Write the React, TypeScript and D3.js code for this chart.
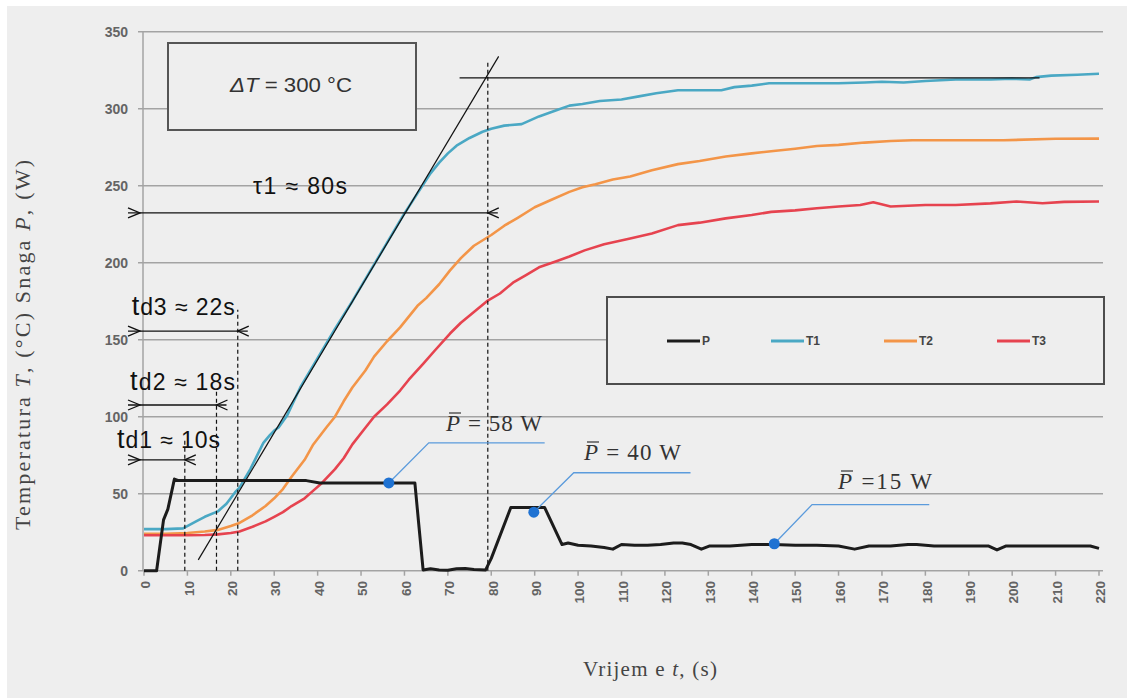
import React from "react";
import * as d3 from "d3";

// ---- data (time s, value) ----
const seriesNames = ["P", "T1", "T2", "T3"];
const seriesColors = ["#1c1c1c", "#4aa8c4", "#f39548", "#e6434f"];

const dataP: [number, number][] = [
  [0, 0], [2.9, 0], [4.5, 33], [5.5, 40], [7, 59.5], [8, 58.5], [20, 58.5], [30, 58.5], [37.4, 58.5],
  [40.5, 57], [50, 57], [62.4, 57], [63.3, 30], [64.3, 0.5], [66, 1.2], [68, 0.5], [70, 0.3], [72, 1.2],
  [74, 1.5], [76, 0.8], [78.7, 0.5], [80, 8], [84.5, 41], [92.3, 41], [96.3, 17], [97.7, 18], [100, 16.5],
  [103, 16], [106, 15], [108, 14], [110, 17], [113, 16.5], [116, 16.5], [119, 17], [122, 18], [124, 18],
  [126, 17], [128.4, 14], [130.2, 16], [135, 16], [140, 17], [145, 17], [150, 16.5], [155, 16.5], [160, 16],
  [163.7, 14], [167, 16], [172, 16], [176, 17], [178, 17], [182, 16], [190, 16], [194.6, 16], [196.5, 13.5],
  [198.5, 16], [205, 16], [210, 16], [215, 16], [218, 16], [220, 14.5],
];

const dataT1: [number, number][] = [
  [0, 27], [5, 27], [9, 27.5], [12, 32], [14, 35], [17, 38.5], [19, 43.5], [21, 51], [22, 54], [24.5, 66],
  [27.5, 83], [29, 88], [30, 91], [31, 93], [33, 101], [36, 119], [40, 138], [44, 157], [48, 175], [52, 194],
  [56, 213], [60, 232], [63, 245], [66, 258], [68, 265], [70, 271], [72, 276], [75, 281], [78, 285], [80, 287],
  [83, 289], [87, 290], [91, 295], [95, 299], [98, 302], [101, 303], [105, 305], [110, 306], [114, 308],
  [118, 310], [123, 312], [128, 312], [133, 312], [136, 314], [140, 315], [144, 316.5], [150, 316.5],
  [160, 316.5], [166, 317], [170, 317.5], [175, 317], [180, 318], [187, 319], [195, 319], [200, 319.5],
  [204, 319], [205.5, 320.5], [209, 321.5], [215, 322], [220, 322.7],
];

const dataT2: [number, number][] = [
  [0, 24], [5, 24], [10, 24.5], [14, 25.5], [17, 26.5], [20, 29], [22, 31], [25, 36], [28, 42], [30, 47],
  [32, 53], [34, 61], [37, 72], [39, 82], [42, 93], [44, 100], [46, 110], [48, 119], [51, 130], [53, 139],
  [56, 149], [59, 158], [61, 165], [63, 172], [65, 177], [68, 186], [70.5, 195], [73, 203], [76, 211],
  [80, 218], [83, 224], [86, 229], [90, 236], [94, 241], [98, 246], [101, 249], [104, 251], [108, 254],
  [112, 256], [117, 260], [123, 264], [128, 266], [134, 269], [140, 271], [145, 272.5], [150, 274],
  [155, 275.8], [160, 276.5], [166, 278], [172, 279], [177, 279.5], [185, 279.5], [198, 279.5],
  [210, 280.5], [220, 280.6],
];

const dataT3: [number, number][] = [
  [0, 23], [5, 23], [10, 23], [14, 23.2], [17, 23.6], [20, 24.5], [22, 25.5], [25, 28.5], [28, 32], [30, 35],
  [32, 38], [34, 42], [37, 47], [39, 52], [41, 57], [44, 66], [46, 73], [48, 82], [50.5, 91], [53, 100],
  [56, 108], [59, 117], [61, 124], [64.4, 134.6], [67, 143], [70.5, 154], [73, 161], [76, 168], [79, 175],
  [82, 180], [85, 187], [88, 192], [91, 197], [95, 201], [98, 204], [101.5, 208], [106, 212], [112, 215.7],
  [117, 219], [123, 224.4], [128, 226], [134, 228.8], [140, 231], [144.5, 233], [150, 234], [155, 235.4],
  [160, 236.5], [165, 237.5], [168, 239.3], [172, 236.5], [180, 237.5], [187, 237.5], [195, 238.5],
  [201, 239.7], [207, 238.6], [212, 239.5], [220, 239.7],
];

const xTicks = d3.range(0, 221, 10);
const yTicks = [0, 50, 100, 150, 200, 250, 300, 350];

// callouts: dot, elbow, end (t, value), label
const calloutDots: [number, number][] = [[56.4, 57], [89.8, 38], [145.2, 17.5]];
const calloutElbows: [number, number][] = [[65.6, 83], [99, 63.6], [153.9, 42.9]];
const calloutEnds = [92.3, 125.9, 180.9];
const calloutLabels = ["58", "40", "15"];

// tangent and time-constant markers
const tangentLine: [number, number][] = [[12.5, 7], [81.7, 334]];
const steadyLine: [number, number][] = [[72.7, 320], [206.3, 320]];
const delayTimes = [9.4, 16.7, 21.6, 79.2];
const delayLevels = [72, 107.6, 155.6, 232.3];
const delayDashTop = [84.5, 117.5, 169.5, 330];
const delayLabels = ["d1 ≈ 10s", "d2 ≈ 18s", "d3 ≈ 22s", "τ1 ≈ 80s"];

export default function App() {
  const W = 1127, H = 698;
  const x = d3.scaleLinear().domain([0, 220]).range([144, 1099]);
  const y = d3.scaleLinear().domain([0, 350]).range([570.7, 31.7]);
  const plotL = 143, plotR = 1103;
  const line = d3.line<[number, number]>().x((d) => x(d[0])).y((d) => y(d[1]));
  const all = [dataP, dataT1, dataT2, dataT3];
  const sans = "'Liberation Sans', Arial, sans-serif";
  const serif = "'Liberation Serif', 'Times New Roman', serif";
  const tickCol = "#646464";
  const grid = "#a3a3a3";

  const labelPos = [
    { lx: 117, ly: 448, len: 103 },
    { lx: 130, ly: 390, len: 105 },
    { lx: 131.7, ly: 315, len: 103 },
    { lx: 253, ly: 194, len: 94 },
  ];
  const pLabelPos = [
    { lx: 446, ly: 431, len: 96 },
    { lx: 584, ly: 460, len: 97 },
    { lx: 838, ly: 489, len: 94 },
  ];

  return (
    <svg width={W} height={H} style={{ position: "absolute", left: 0, top: 0 }}>
      <rect x={0} y={0} width={W} height={H} fill="#ffffff" />
      <rect x={7} y={6} width={W - 7} height={H - 6} fill="#eeeeee" />

      {/* gridlines */}
      {yTicks.map((t) => (
        <line key={"g" + t} x1={plotL - 5} x2={plotR} y1={y(t)} y2={y(t)} stroke={grid} strokeWidth={1.5} />
      ))}
      <line x1={plotL} x2={plotL} y1={y(350)} y2={y(0)} stroke={grid} strokeWidth={1.5} />
      {xTicks.map((t) => (
        <line key={"xt" + t} x1={x(t)} x2={x(t)} y1={y(0)} y2={y(0) + 5} stroke={grid} strokeWidth={1.5} />
      ))}

      {/* y tick labels */}
      {yTicks.map((t) => (
        <text key={"yl" + t} x={128} y={y(t)} dy="0.35em" textAnchor="end" fontFamily={sans} fontWeight="bold"
          fontSize={14} fill={tickCol}>{t}</text>
      ))}
      {/* x tick labels */}
      {xTicks.map((t) => (
        <text key={"xl" + t} transform={`translate(${x(t) + 1.5},${581}) rotate(-90)`} dy="0.35em" textAnchor="end"
          fontFamily={sans} fontWeight="bold" fontSize={13.5} fill={tickCol}>{t}</text>
      ))}

      {/* axis titles */}
      <text transform={`translate(30,345) rotate(-90)`} textAnchor="middle" fontFamily={serif} fontSize={22}
        fill="#444" textLength={370} lengthAdjust="spacing">
        Temperatura <tspan fontStyle="italic">T</tspan>, (°C)   Snaga <tspan fontStyle="italic">P</tspan>, (W)
      </text>
      <text x={650} y={676} textAnchor="middle" fontFamily={serif} fontSize={21} fill="#444" textLength={134}
        lengthAdjust="spacing">
        Vrijem e <tspan fontStyle="italic">t</tspan>, (s)
      </text>

      {/* ΔT box */}
      <rect x={168} y={43} width={248} height={87} fill="#eeeeee" stroke="#555" strokeWidth={2} />
      <text x={291} y={92} textAnchor="middle" fontFamily={sans} fontSize={20} fill="#333" textLength={122}
        lengthAdjust="spacingAndGlyphs">
        <tspan fontStyle="italic">ΔT</tspan> = 300 °C
      </text>

      {/* legend */}
      <rect x={607} y={297} width={497} height={87} fill="#eeeeee" stroke="#4d4d4d" strokeWidth={2} />
      {seriesNames.map((n, i) => {
        const lx = [667, 771, 884, 997][i];
        return (
          <g key={n}>
            <line x1={lx} x2={lx + 33} y1={341} y2={341} stroke={seriesColors[i]} strokeWidth={3} />
            <text x={lx + 35} y={341} dy="0.35em" fontFamily={sans} fontWeight="bold" fontSize={12} fill="#444">{n}</text>
          </g>
        );
      })}

      {/* series */}
      {[1, 2, 3, 0].map((i) => (
        <path key={"s" + i} d={line(all[i]) || ""} fill="none" stroke={seriesColors[i]}
          strokeWidth={i === 0 ? 3 : 2.6} strokeLinejoin="round" />
      ))}

      {/* tangent + steady line */}
      <path d={line(tangentLine) || ""} stroke="#111" strokeWidth={1.2} fill="none" />
      <path d={line(steadyLine) || ""} stroke="#111" strokeWidth={1.3} fill="none" />

      {/* delay markers */}
      {delayTimes.map((t, i) => {
        const xt = x(t);
        const yl = y(delayLevels[i]);
        const p = labelPos[i];
        return (
          <g key={"d" + i}>
            <line x1={xt} x2={xt} y1={y(0)} y2={y(delayDashTop[i])} stroke="#111" strokeWidth={1.2}
              strokeDasharray="4,3" />
            <line x1={128} x2={xt + 10} y1={yl} y2={yl} stroke="#111" strokeWidth={1.3} />
            <path d={`M128,${yl - 5}L140,${yl}L128,${yl + 5}`} stroke="#111" strokeWidth={1.3} fill="none" />
            <path d={`M${xt + 11},${yl - 5}L${xt},${yl}L${xt + 11},${yl + 5}`} stroke="#111" strokeWidth={1.3} fill="none" />
            {i < 3 ? (
              <text x={p.lx} y={p.ly} fontFamily={sans} fontSize={23} fill="#111" textLength={p.len} lengthAdjust="spacing">
                <tspan fontSize={27}>t</tspan>{delayLabels[i]}
              </text>
            ) : (
              <text x={p.lx} y={p.ly} fontFamily={sans} fontSize={23} fill="#111" textLength={p.len} lengthAdjust="spacing">
                {delayLabels[i]}
              </text>
            )}
          </g>
        );
      })}

      {/* callouts */}
      {calloutDots.map((d, i) => {
        const e = calloutElbows[i];
        const p = pLabelPos[i];
        return (
          <g key={"c" + i}>
            <path d={`M${x(d[0])},${y(d[1])}L${x(e[0])},${y(e[1])}L${x(calloutEnds[i])},${y(e[1])}`}
              fill="none" stroke="#5b9bdc" strokeWidth={1.3} />
            <circle cx={x(d[0])} cy={y(d[1])} r={5.5} fill="#1f72d2" />
            <text x={p.lx} y={p.ly} fontFamily={serif} fontSize={23} fill="#333" textLength={p.len}
              lengthAdjust="spacing">
              <tspan fontStyle="italic">P</tspan>{i === 2 ? " =" : " = "}{calloutLabels[i]} W
            </text>
            <line x1={p.lx + 3} x2={p.lx + 15} y1={p.ly - 18} y2={p.ly - 18} stroke="#333" strokeWidth={1.2} />
          </g>
        );
      })}
    </svg>
  );
}
